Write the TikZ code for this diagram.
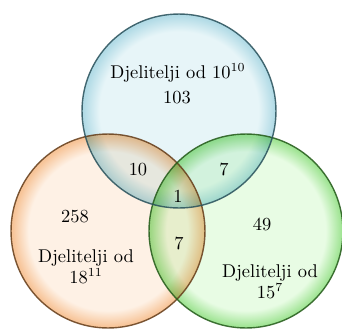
\documentclass[tikz,border=0pt]{standalone}
\usepackage{amsmath}
\usepackage{tikz}
\usetikzlibrary{shapes}

\definecolor{bluepale}{RGB}{231,245,248}
\definecolor{bluemid}{RGB}{178,219,230}
\definecolor{blueedge}{RGB}{40,80,90}
\definecolor{orangepale}{RGB}{254,241,229}
\definecolor{orangemid}{RGB}{247,196,152}
\definecolor{orangeedge}{RGB}{100,60,25}
\definecolor{greenpale}{RGB}{232,252,228}
\definecolor{greenmid}{RGB}{160,228,148}
\definecolor{greenedge}{RGB}{35,90,25}

\pgfdeclareradialshading{blueglow}{\pgfpoint{0bp}{0bp}}{color(0bp)=(bluepale); color(20.5bp)=(bluepale); color(24.6bp)=(bluemid); color(50bp)=(bluemid)}
\pgfdeclareradialshading{orangeglow}{\pgfpoint{0bp}{0bp}}{color(0bp)=(orangepale); color(20.5bp)=(orangepale); color(24.6bp)=(orangemid); color(50bp)=(orangemid)}
\pgfdeclareradialshading{greenglow}{\pgfpoint{0bp}{0bp}}{color(0bp)=(greenpale); color(20.5bp)=(greenpale); color(24.6bp)=(greenmid); color(50bp)=(greenmid)}

\begin{document}
\begin{tikzpicture}[x=0.02cm, y=-0.02cm]
  \tikzstyle{vennset} = [circle, minimum size=3.88cm, inner sep=0pt, blend mode=multiply]
  \tikzstyle{rim} = [circle, minimum size=3.88cm, inner sep=0pt, line width=0.8pt, draw opacity=0.85]
  \tikzstyle{count} = [font=\fontsize{10.5}{12}\selectfont, inner sep=1pt]
  \tikzstyle{setname} = [font=\fontsize{10.5}{12}\selectfont, align=center, inner sep=1pt]
  \useasboundingbox (0,0) rectangle (342,329);
  % the three sets
  \node (o) [vennset, shading=orangeglow] at (108,231) {};
  \node (g) [vennset, shading=greenglow] at (246,231) {};
  \node (b) [vennset, shading=blueglow] at (179,111) {};
  \node (ro) [rim, draw=orangeedge] at (o) {};
  \node (rg) [rim, draw=greenedge] at (g) {};
  \node (rb) [rim, draw=blueedge] at (b) {};
  % names and counts
  \node (nb) [setname] at (178,73) {Djelitelji od 10$^{10}$};
  \node (cb) [count] at (177,98) {103};
  \node (cbo) [count] at (138,170) {10};
  \node (cbg) [count] at (224,169) {7};
  \node (cbog) [count] at (178,196) {1};
  \node (co) [count] at (75,217) {258};
  \node (no) [setname] at (86,267) {Djelitelji od\\18$^{11}$};
  \node (cog) [count] at (179,243) {7};
  \node (cg) [count] at (262,224) {49};
  \node (ng) [setname] at (270,282) {Djelitelji od\\15$^{7}$};
\end{tikzpicture}
\end{document}
